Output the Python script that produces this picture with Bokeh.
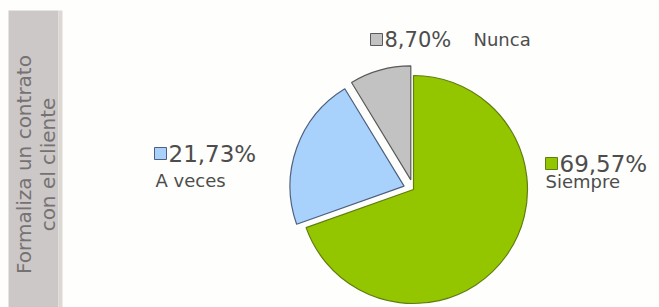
import math
from bokeh.plotting import figure
from bokeh.models import Range1d
from bokeh.core.properties import value
from bokeh.embed import file_html
from bokeh.resources import INLINE

# ---- data ----
categories = ["Siempre", "A veces", "Nunca"]
percentages = [69.57, 21.73, 8.70]
pct_labels = ["69,57%", "21,73%", "8,70%"]
side_title = ["Formaliza un contrato", "con el cliente"]

# ---- styles ----
fills = ["#94c600", "#a8d2fb", "#c2c2c2"]
edges = ["#5f7d10", "#4f5f7e", "#5a5a5a"]
explode = [0, 10, 10]

W, H = 659, 307
p = figure(width=W, height=H, output_backend="svg", toolbar_location=None,
           x_range=Range1d(0, W), y_range=Range1d(0, H),
           x_axis_type=None, y_axis_type=None, min_border=0)
p.grid.visible = False
p.outline_line_color = None
p.background_fill_color = "#fefefc"
p.border_fill_color = "#fefefc"

# side panel
p.quad(left=8, right=58, bottom=0, top=297, fill_color="#cdc8c8", line_color=None)
p.quad(left=58, right=62, bottom=0, top=297, fill_color="#dcd9d3", line_color=None)
p.text(x=[23, 47], y=[143, 143], text=side_title, angle=math.pi / 2,
       text_align="center", text_baseline="middle", text_color="#767272",
       text_font=value("DejaVu Sans"), text_font_size="20px")

# pie
cx, cy, r = 413, 118, 114
total = sum(percentages)
cum = 0.0
for i, v in enumerate(percentages):
    a0 = 90 - (cum + v) / total * 360
    a1 = 90 - cum / total * 360
    mid = math.radians((a0 + a1) / 2)
    ox = cx + explode[i] * math.cos(mid)
    oy = cy + explode[i] * math.sin(mid)
    p.wedge(x=[ox], y=[oy], radius=r, start_angle=math.radians(a0), end_angle=math.radians(a1),
            fill_color=fills[i], line_color=edges[i], line_width=1.2)
    cum += v

# label layout
font = value("DejaVu Sans")
tc = "#4d4d4d"
lay = {
    0: dict(sx=551, sy=144, fs="23px", nx=545, ny=126),
    1: dict(sx=160, sy=154, fs="23px", nx=155, ny=127),
    2: dict(sx=376, sy=268, fs="21px", nx=473, ny=268),
}
for i in range(3):
    L = lay[i]
    p.rect(x=[L["sx"]], y=[L["sy"]], width=12, height=12, fill_color=fills[i],
           line_color=edges[i], line_width=1)
    p.text(x=[L["sx"] + 8], y=[L["sy"]], text=[pct_labels[i]], text_align="left",
           text_baseline="middle", text_color=tc, text_font=font, text_font_size=L["fs"])
    p.text(x=[L["nx"]], y=[L["ny"]], text=[categories[i]], text_align="left",
           text_baseline="middle", text_color=tc, text_font=font, text_font_size="18px")

open("out.html", "w").write(file_html(p, INLINE))
